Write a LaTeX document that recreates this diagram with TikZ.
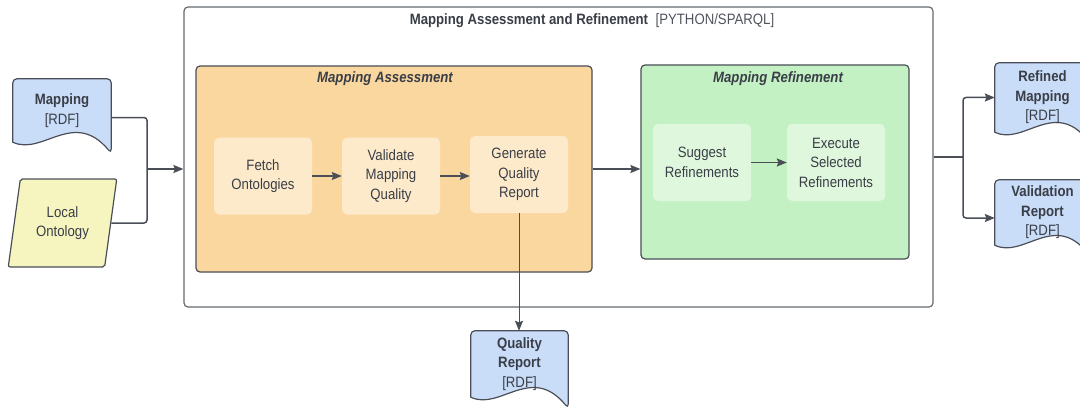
\documentclass[tikz,border=0pt]{standalone}
\usepackage{fontspec}
\setmainfont{Liberation Sans}[FakeStretch=0.88]
\usetikzlibrary{arrows.meta,calc,shapes.geometric,backgrounds}

\definecolor{edge}{HTML}{4A4E57}
\definecolor{ink}{HTML}{3A3E47}
\definecolor{softink}{HTML}{50545C}
\definecolor{assessfill}{HTML}{FBD7A0}
\definecolor{assessstep}{HTML}{FDEACB}
\definecolor{refinefill}{HTML}{C4F1C4}
\definecolor{refinestep}{HTML}{DFF7DC}
\definecolor{docfill}{HTML}{C9DCF8}
\definecolor{localfill}{HTML}{F7F5BF}

% document shape: straight sides, rounded top, wavy bottom edge
\newcommand\docoutline[2]{%
  \begin{pgfonlayer}{background}
    \draw[docline, fill=#2] (#1.south west) [rounded corners=4pt]
      -- (#1.north west) -- (#1.north east) -- ([yshift=-11pt]#1.south east)
      [sharp corners]
      .. controls ($(#1.south west)!0.62!(#1.south east)+(0,34)$)
             and ($(#1.south west)!0.30!(#1.south east)+(0,-14)$) .. (#1.south west)
      -- cycle;
  \end{pgfonlayer}}

\begin{document}
\begin{tikzpicture}[x=1pt, y=1pt,
  txt/.style={font=\fontsize{15}{19.5}\selectfont, text=ink, align=center},
  grouptitle/.style={font=\fontsize{15}{16}\selectfont\bfseries\itshape, text=ink},
  group/.style={draw=edge, line width=1.2pt, rounded corners=4pt},
  stepbox/.style={txt, rounded corners=5pt, minimum width=98pt, minimum height=77pt, inner sep=0pt},
  doc/.style={txt, minimum width=97pt, inner sep=0pt},
  docline/.style={draw=edge, line width=1.2pt},
  wire/.style={draw=edge, line width=1.5pt},
  link/.style={wire, -{Stealth[length=10pt, width=8pt, inset=1.5pt]}}]

\useasboundingbox (0,0) rectangle (1080,408);

% outer process frame
\node[group, fill=white, draw=edge!85, minimum width=749pt, minimum height=300pt, inner sep=0pt] (outer) at (558.5,251) {};
\node[txt] (outertitle) at (592,387) {\textbf{Mapping Assessment and Refinement}\enspace{\color{softink}[PYTHON/SPARQL]}};

% assessment stage
\node[group, fill=assessfill, minimum width=396pt, minimum height=206pt, inner sep=0pt] (assess) at (394,239) {};
\node[grouptitle] (assesstitle) at (385,329) {Mapping Assessment};
\node[stepbox, fill=assessstep] (fetch) at (263,232) {Fetch\\Ontologies};
\node[stepbox, fill=assessstep] (validate) at (391,232) {Validate\\Mapping\\Quality};
\node[stepbox, fill=assessstep] (generate) at (519,233.5) {Generate\\Quality\\Report};

% refinement stage
\node[group, fill=refinefill, minimum width=268pt, minimum height=194pt, inner sep=0pt] (refine) at (775,246) {};
\node[grouptitle] (refinetitle) at (778,329) {Mapping Refinement};
\node[stepbox, fill=refinestep] (suggest) at (702,245.5) {Suggest\\Refinements};
\node[stepbox, fill=refinestep] (execute) at (836,245.5) {Execute\\Selected\\Refinements};

% inputs
\node[doc, minimum width=98pt, minimum height=63pt] (mapping) at (62,297.5) {\textbf{Mapping}\\{[RDF]}};
\docoutline{mapping}{docfill}
\node[txt, trapezium, trapezium left angle=78, trapezium right angle=102,
      trapezium stretches=true, minimum width=109pt, minimum height=88pt,
      draw=edge, line width=1.2pt, fill=localfill, rounded corners=2pt] (local) at (62.5,185) {Local\\Ontology};

% outputs
\node[doc, minimum width=95pt, minimum height=69pt] (refined) at (1042.5,310.5) {\textbf{Refined}\\\textbf{Mapping}\\{[RDF]}};
\docoutline{refined}{docfill}
\node[doc, minimum width=95pt, minimum height=65pt] (validation) at (1042.5,195.5) {\textbf{Validation}\\\textbf{Report}\\{[RDF]}};
\docoutline{validation}{docfill}
\node[doc, minimum width=97pt, minimum height=66pt] (quality) at (519.5,44) {\textbf{Quality}\\\textbf{Report}\\{[RDF]}};
\docoutline{quality}{docfill}

% flow inside the stages
\draw[link] (fetch.east) -- (validate.west);
\draw[link] (validate.east) -- (validate.east -| generate.west);
\draw[link] (suggest.east) -- (suggest.east -| execute.west);
\draw[link] (assess.east) -- (assess.east -| refine.west);

% inputs merge into the process
\coordinate (joinL) at (147,239);
\draw[wire, rounded corners=3pt] ([yshift=-7pt]mapping.east) -| (joinL);
\draw[wire, rounded corners=3pt] (local.east) -| (joinL);
\draw[link] (joinL) -- (joinL -| outer.west);

% process splits into the outputs
\coordinate (joinR) at (963,251);
\draw[wire] (outer.east) -- (joinR);
\draw[link, rounded corners=3pt] (joinR) |- (refined.west);
\draw[link, rounded corners=3pt] (joinR) |- ([yshift=-5.5pt]validation.west);

% quality report output
\draw[link, line width=1pt] (generate.south) -- (generate.south |- quality.north);
\end{tikzpicture}
\end{document}
